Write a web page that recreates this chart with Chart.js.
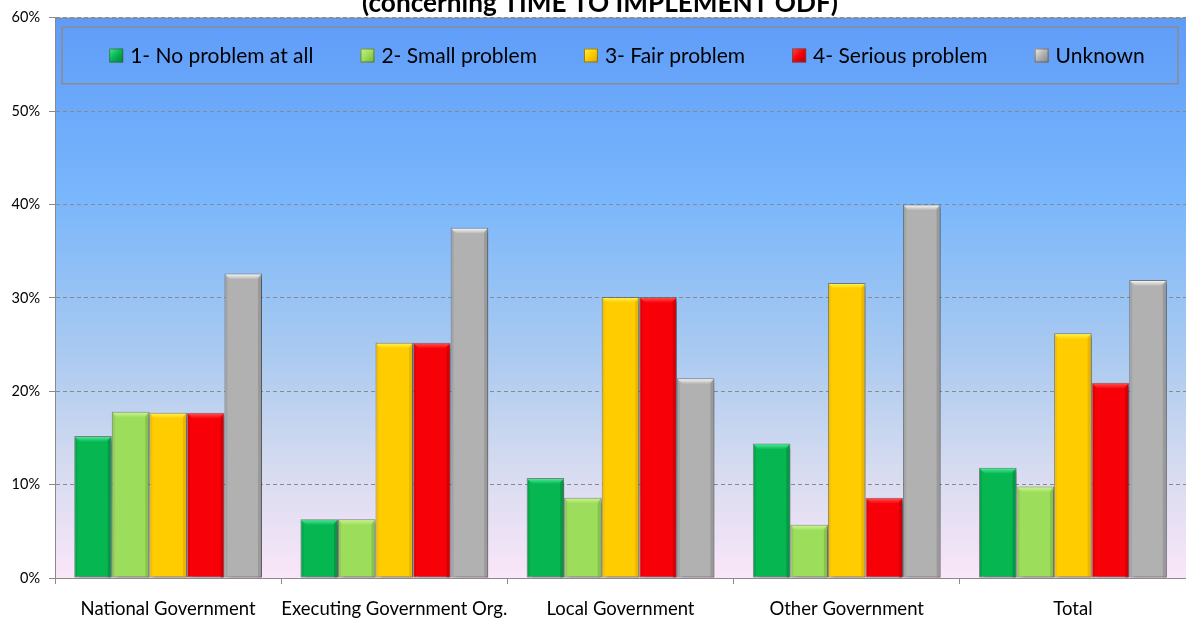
<!DOCTYPE html>
<html>
<head>
<meta charset="utf-8">
<script src="https://cdn.jsdelivr.net/npm/chart.js@4.4.1/dist/chart.umd.min.js"></script>
<style>
  html, body { margin: 0; padding: 0; background: #ffffff; }
  #wrap { position: relative; width: 1186px; height: 619px; }
</style>
</head>
<body>
<div id="wrap"><canvas id="c" width="1186" height="619"></canvas></div>
<script>
// ---- data ----
const categories = ["National Government", "Executing Government Org.", "Local Government", "Other Government", "Total"];
const seriesNames = ["1- No problem at all", "2- Small problem", "3- Fair problem", "4- Serious problem", "Unknown"];
const noProblem      = [15.2, 6.3, 10.7, 14.4, 11.8];
const smallProblem   = [17.8, 6.3, 8.6, 5.7, 9.8];
const fairProblem    = [17.7, 25.2, 30.1, 31.6, 26.2];
const seriousProblem = [17.7, 25.2, 30.1, 8.6, 20.9];
const unknownValues  = [32.6, 37.5, 21.4, 40.0, 31.9];
const yTicks = [0, 10, 20, 30, 40, 50, 60];
const titleText = "(concerning TIME TO IMPLEMENT ODF)";

// ---- styles ----
const seriesColors = ["#05B651", "#9CDD5B", "#FFCC00", "#F70008", "#B1B1B1"];
const bevelColors  = ["#45E890", "#C9F28E", "#FFF04A", "#FF4A4A", "#F2F2F2"];
const edgeColors   = ["#03823A", "#73B03A", "#D9A600", "#B50006", "#868686"];
const FONT = "Lato, 'Open Sans', 'DejaVu Sans', sans-serif";

const allValues = [noProblem, smallProblem, fairProblem, seriousProblem, unknownValues];

const datasets = allValues.map((vals, i) => ({
  label: seriesNames[i],
  data: vals,
  backgroundColor: seriesColors[i],
  borderColor: "rgba(100,100,100,0.75)",
  borderWidth: 1,
  borderSkipped: false,
  categoryPercentage: 0.83,
  barPercentage: 1.0,
  clip: false
}));

const plotBackground = {
  id: "plotBackground",
  beforeDraw(chart) {
    const { ctx, chartArea: a } = chart;
    const g = ctx.createLinearGradient(0, a.top, 0, a.bottom);
    g.addColorStop(0, "#5E9CF9");
    g.addColorStop(0.33, "#7BB7FB");
    g.addColorStop(0.6, "#AACAF0");
    g.addColorStop(0.8, "#D5DBF0");
    g.addColorStop(1, "#FAE6F8");
    ctx.save();
    ctx.fillStyle = g;
    ctx.fillRect(a.left, a.top, a.right - a.left, a.bottom - a.top);
    ctx.restore();
  },
  afterDraw(chart) {
    const { ctx, chartArea: a } = chart;
    ctx.save();
    ctx.strokeStyle = "#8a8a8a";
    ctx.lineWidth = 1;
    ctx.beginPath();
    ctx.moveTo(a.left, a.top + 0.5);
    ctx.lineTo(a.right, a.top + 0.5);
    ctx.stroke();
    // title (clipped at the top of the picture)
    const cx = (chart.width) / 2 + 7;
    ctx.fillStyle = "#000";
    ctx.textAlign = "center";
    ctx.textBaseline = "alphabetic";
    let size = 20;
    ctx.font = "bold " + size + "px " + FONT;
    const w = ctx.measureText(titleText).width;
    size = size * 476 / w;
    ctx.font = "bold " + size.toFixed(1) + "px " + FONT;
    ctx.fillText(titleText, cx, 12);
    ctx.restore();
  }
};

const barShadow = {
  id: "barShadow",
  beforeDatasetsDraw(chart) {
    const ctx = chart.ctx;
    ctx.save();
    ctx.shadowColor = "rgba(0,0,0,0.35)";
    ctx.shadowOffsetX = 3;
    ctx.shadowOffsetY = 3;
    ctx.shadowBlur = 4;
  },
  afterDatasetsDraw(chart) {
    const ctx = chart.ctx;
    ctx.restore();
    chart.data.datasets.forEach((ds, di) => {
      const meta = chart.getDatasetMeta(di);
      meta.data.forEach(bar => {
        const p = bar.getProps(["x", "y", "base", "width"], true);
        const l = p.x - p.width / 2 + 1, r = p.x + p.width / 2 - 1;
        const t = p.y + 1, b = p.base;
        const bev = 5;
        ctx.save();
        ctx.fillStyle = edgeColors[di];
        ctx.globalAlpha = 0.55;
        ctx.beginPath();
        ctx.moveTo(r, t); ctx.lineTo(r, b); ctx.lineTo(r - 3, b); ctx.lineTo(r - 3, t + bev); ctx.closePath();
        ctx.fill();
        ctx.globalAlpha = 0.3;
        ctx.beginPath();
        ctx.moveTo(l, t); ctx.lineTo(l + 2, t + bev); ctx.lineTo(l + 2, b); ctx.lineTo(l, b); ctx.closePath();
        ctx.fill();
        ctx.globalAlpha = 1;
        const g = ctx.createLinearGradient(0, t, 0, t + bev);
        g.addColorStop(0, bevelColors[di]);
        g.addColorStop(1, seriesColors[di]);
        ctx.fillStyle = g;
        ctx.beginPath();
        ctx.moveTo(l, t); ctx.lineTo(r, t); ctx.lineTo(r - bev, t + bev); ctx.lineTo(l + bev, t + bev); ctx.closePath();
        ctx.fill();
        ctx.restore();
      });
    });
  }
};

const boxedLegend = {
  id: "boxedLegend",
  afterDraw(chart) {
    const { ctx, chartArea: a } = chart;
    const boxL = a.left + 7, boxR = a.right - 8, boxT = a.top + 9.5, boxB = a.top + 66;
    ctx.save();
    ctx.strokeStyle = "#8c8c8c";
    ctx.lineWidth = 1.5;
    ctx.strokeRect(boxL, boxT, boxR - boxL, boxB - boxT);
    ctx.font = "21px " + FONT;
    const sw = 14, gapText = 7, gapItem = 47;
    const items = chart.data.datasets.map((ds, i) => ({ label: ds.label, i, w: ctx.measureText(ds.label).width }));
    const total = items.reduce((s, it) => s + sw + gapText + it.w, 0) + gapItem * (items.length - 1);
    let x = 627 - total / 2;
    const cy = (boxT + boxB) / 2;
    items.forEach(it => {
      const g = ctx.createLinearGradient(x, cy - sw / 2, x + sw, cy + sw / 2);
      g.addColorStop(0, bevelColors[it.i]);
      g.addColorStop(0.5, seriesColors[it.i]);
      g.addColorStop(1, edgeColors[it.i]);
      ctx.fillStyle = g;
      ctx.fillRect(x, cy - sw / 2, sw, sw);
      ctx.strokeStyle = "rgba(80,80,80,0.7)";
      ctx.lineWidth = 1;
      ctx.strokeRect(x + 0.5, cy - sw / 2 + 0.5, sw - 1, sw - 1);
      ctx.fillStyle = "#000";
      ctx.textAlign = "left";
      ctx.textBaseline = "middle";
      ctx.fillText(it.label, x + sw + gapText, cy + 1);
      x += sw + gapText + it.w + gapItem;
    });
    ctx.restore();
  }
};

new Chart(document.getElementById("c"), {
  type: "bar",
  data: { labels: categories, datasets },
  plugins: [plotBackground, barShadow, boxedLegend],
  options: {
    responsive: false,
    animation: false,
    events: [],
    layout: { padding: { top: 17, left: 0, right: 0, bottom: 0 } },
    plugins: { legend: { display: false }, title: { display: false }, tooltip: { enabled: false } },
    scales: {
      x: {
        offset: true,
        grid: { offset: true, drawOnChartArea: false, drawTicks: true, tickLength: 6, color: "#8a8a8a" },
        border: { color: "#8a8a8a", width: 1 },
        ticks: { color: "#000", font: { family: FONT, size: 18.5 }, padding: 14, maxRotation: 0, autoSkip: false },
        afterFit(s) { s.height = 41; }
      },
      y: {
        min: yTicks[0],
        max: yTicks[yTicks.length - 1],
        afterBuildTicks(s) { s.ticks = yTicks.map(v => ({ value: v })); },
        grid: { color: "#8a8a8a", tickLength: 6, tickColor: "#8a8a8a", tickBorderDash: [0, 0], drawTicks: true },
        border: { color: "#8a8a8a", width: 1, dash: [4, 3] },
        ticks: { color: "#000", font: { family: FONT, size: 14.5 }, padding: 9, callback: v => v + "%" },
        afterFit(s) { s.width = 55; }
      }
    }
  }
});
</script>
</body>
</html>
